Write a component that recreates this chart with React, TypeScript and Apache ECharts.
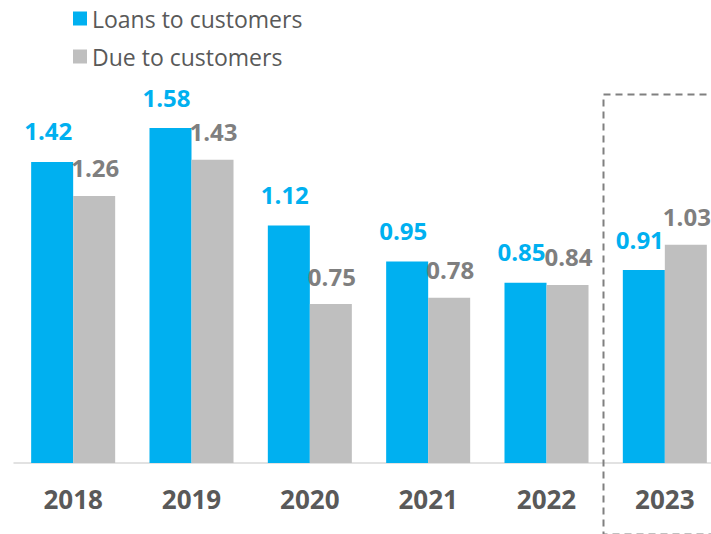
import React, { useEffect, useRef } from "react";
import * as echarts from "echarts";

const years = ["2018", "2019", "2020", "2021", "2022", "2023"];
const loansToCustomers = [1.42, 1.58, 1.12, 0.95, 0.85, 0.91];
const dueToCustomers = [1.26, 1.43, 0.75, 0.78, 0.84, 1.03];

const BLUE = "#00B0F0";
const GREY_BAR = "#BFBFBF";
const GREY_LABEL = "#7F7F7F";
const DARK_TEXT = "#595959";
const FONT = "'Open Sans', sans-serif";

export default function App() {
  const ref = useRef<HTMLDivElement>(null);

  useEffect(() => {
    if (!ref.current) return;
    const chart = echarts.init(ref.current, null, { renderer: "svg" });
    chart.setOption({
      animation: false,
      backgroundColor: "#ffffff",
      legend: {
        orient: "vertical",
        left: 68,
        top: 2,
        itemWidth: 14,
        itemHeight: 14,
        itemGap: 15,
        icon: "rect",
        textStyle: { fontFamily: FONT, fontSize: 23, color: DARK_TEXT, lineHeight: 22 },
        data: ["Loans to customers", "Due to customers"],
      },
      // the last category runs past the visible edge, so the canvas is wider than the viewport
      grid: { left: 14, right: 1, top: 39, bottom: 71, containLabel: false },
      xAxis: {
        type: "category",
        data: years,
        axisLine: { show: true, lineStyle: { color: "#D9D9D9", width: 1.5 } },
        axisTick: { show: false },
        axisLabel: {
          fontFamily: FONT,
          fontSize: 26,
          fontWeight: "bold",
          color: DARK_TEXT,
          margin: 23,
        },
      },
      yAxis: { type: "value", min: 0, max: 2, show: false, splitLine: { show: false } },
      series: [
        {
          name: "Loans to customers",
          type: "bar",
          data: loansToCustomers,
          barGap: "0%",
          barCategoryGap: "29%",
          itemStyle: { color: BLUE },
          label: {
            show: true,
            position: "top",
            distance: 19,
            offset: [-4, 0],
            fontFamily: FONT,
            fontSize: 24,
            fontWeight: "bold",
            color: BLUE,
            formatter: (p: any) => p.value.toFixed(2),
          },
        },
        {
          name: "Due to customers",
          type: "bar",
          data: dueToCustomers,
          barGap: "0%",
          barCategoryGap: "29%",
          itemStyle: { color: GREY_BAR },
          label: {
            show: true,
            position: "top",
            distance: 16,
            offset: [1, 0],
            fontFamily: FONT,
            fontSize: 24,
            fontWeight: "bold",
            color: GREY_LABEL,
            formatter: (p: any) => p.value.toFixed(2),
          },
        },
      ],
      graphic: [
        {
          type: "rect",
          left: 601,
          top: 92,
          shape: { x: 0, y: 0, width: 160, height: 440 },
          style: { fill: "none", stroke: "#808080", lineWidth: 2, lineDash: [7, 5] },
          silent: true,
          z: 10,
        },
      ],
    });
    return () => chart.dispose();
  }, []);

  return (
    <div style={{ width: 711, height: 534, position: "absolute", left: 0, top: 0, overflow: "hidden" }}>
      <div ref={ref} style={{ width: 725, height: 534 }} />
    </div>
  );
}
